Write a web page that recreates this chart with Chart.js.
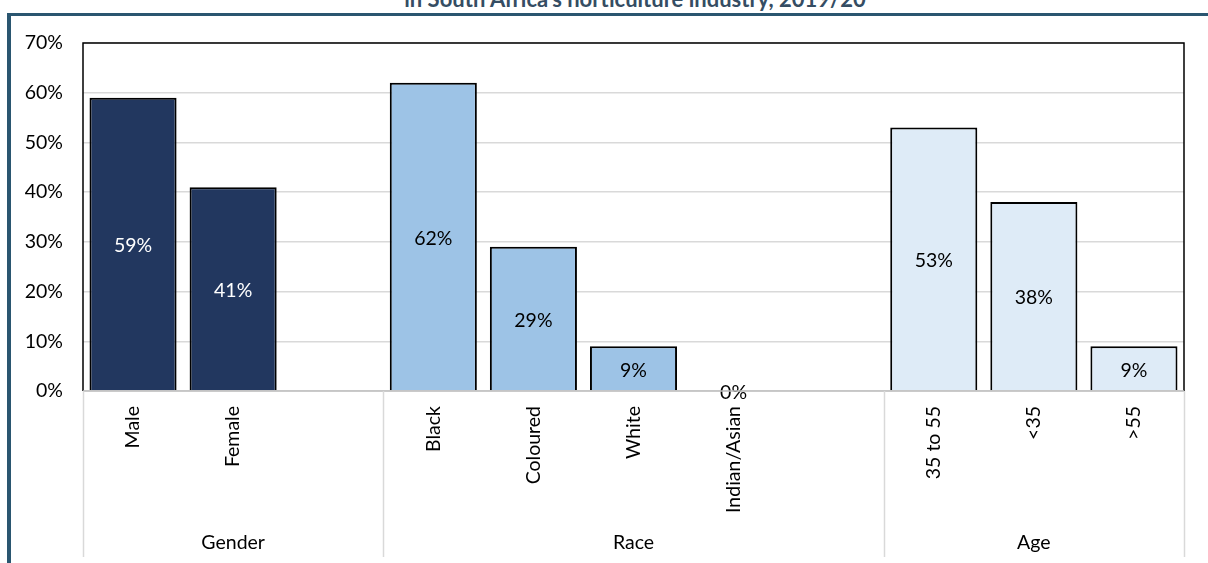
<!DOCTYPE html>
<html>
<head>
<meta charset="utf-8">
<script src="https://cdn.jsdelivr.net/npm/chart.js@4/dist/chart.umd.min.js"></script>
<style>
   body { margin: 0; background: #fff; overflow: hidden; }
   #wrap { position: relative; width: 1208px; height: 563px; overflow: hidden; }
   #title {
      position: absolute; left: 0; width: 1270px; top: -12px;
      text-align: center; font: bold 22px Lato, sans-serif; line-height: 22px;
      color: #354d63; white-space: nowrap;
   }
   #frame {
      position: absolute; left: 7px; top: 13px; width: 1210px; height: 560px;
      border-top: 3px solid #2a5670; border-left: 4px solid #2a5670;
   }
   #chart { position: absolute; left: 0; top: 0; }
</style>
</head>
<body>
<div id="wrap">
   <div id="title">in South Africa's horticulture industry, 2019/20</div>
   <div id="frame"></div>
   <canvas id="chart" width="1208" height="563"></canvas>
</div>
<script>
'use strict';

// categories, blanks are the gaps between groups
var categories = ['Male', 'Female', '', 'Black', 'Coloured', 'White', 'Indian/Asian', '', '35 to 55', '<35', '>55'];
var values = [59, 41, null, 62, 29, 9, 0, null, 53, 38, 9];
var groupNames = ['Gender', 'Race', 'Age'];
var groupFirst = [0, 3, 8];   // first slot of each group
var groupLast = [2, 7, 10];   // last slot of each group
var groupOf = [0, 0, 0, 1, 1, 1, 1, 1, 2, 2, 2];
var groupFill = ['#22375f', '#9dc3e6', '#deebf7'];
var groupText = ['#ffffff', '#000000', '#000000'];
var yTicks = [0, 10, 20, 30, 40, 50, 60, 70];

var FONT = 'Lato, sans-serif';

// value labels in the middle of each bar
var barLabels = {
   id: 'barLabels',
   afterDatasetsDraw: function (chart) {
      var ctx = chart.ctx;
      var meta = chart.getDatasetMeta(0);
      ctx.save();
      ctx.font = '19.5px ' + FONT;
      ctx.textAlign = 'center';
      ctx.textBaseline = 'middle';
      meta.data.forEach(function (bar, i) {
         if (values[i] === null) return;
         ctx.fillStyle = groupText[groupOf[i]];
         ctx.fillText(values[i] + '%', bar.x, (bar.y + bar.base) / 2 + 2);
      });
      ctx.restore();
   }
};

// plot border, group separators and group names under the axis
var groupAxis = {
   id: 'groupAxis',
   afterDraw: function (chart) {
      var ctx = chart.ctx;
      var a = chart.chartArea;
      var x = chart.scales.x;
      var half = (x.getPixelForValue(1) - x.getPixelForValue(0)) / 2;
      ctx.save();
      // plot border
      ctx.strokeStyle = '#000';
      ctx.lineWidth = 1.5;
      ctx.beginPath();
      ctx.moveTo(a.left, a.bottom);
      ctx.lineTo(a.left, a.top);
      ctx.lineTo(a.right, a.top);
      ctx.lineTo(a.right, a.bottom);
      ctx.stroke();
      // axis line
      ctx.strokeStyle = '#bfbfbf';
      ctx.lineWidth = 1.5;
      ctx.beginPath();
      ctx.moveTo(a.left, a.bottom);
      ctx.lineTo(a.right, a.bottom);
      ctx.stroke();
      // separators
      ctx.strokeStyle = '#d9d9d9';
      ctx.lineWidth = 1.5;
      var edges = [x.getPixelForValue(0) - half];
      groupLast.forEach(function (g) { edges.push(x.getPixelForValue(g) + half); });
      edges.forEach(function (px) {
         ctx.beginPath();
         ctx.moveTo(Math.round(px) + 0.5, a.bottom);
         ctx.lineTo(Math.round(px) + 0.5, 557);
         ctx.stroke();
      });
      // group names
      ctx.fillStyle = '#000';
      ctx.font = '19.5px ' + FONT;
      ctx.textAlign = 'center';
      ctx.textBaseline = 'middle';
      groupNames.forEach(function (name, g) {
         var cx = (x.getPixelForValue(groupFirst[g]) + x.getPixelForValue(groupLast[g])) / 2;
         ctx.fillText(name, cx, 543);
      });
      ctx.restore();
   }
};

new Chart(document.getElementById('chart'), {
   type: 'bar',
   data: {
      labels: categories,
      datasets: [{
         data: values,
         backgroundColor: values.map(function (v, i) { return groupFill[groupOf[i]]; }),
         borderColor: '#000',
         borderWidth: 2,
         categoryPercentage: 1,
         barPercentage: 0.87
      }]
   },
   options: {
      responsive: false,
      animation: false,
      layout: { padding: { left: 0, right: 24, top: 43, bottom: 0 } },
      plugins: { legend: { display: false }, tooltip: { enabled: false } },
      scales: {
         x: {
            grid: { display: false },
            border: { display: false },
            ticks: {
               autoSkip: false, minRotation: 90, maxRotation: 90,
               padding: 7, color: '#000', font: { family: FONT, size: 19.5 }
            },
            afterFit: function (s) { s.height = 172; }
         },
         y: {
            min: 0, max: 70,
            afterBuildTicks: function (s) { s.ticks = yTicks.map(function (v) { return { value: v }; }); },
            grid: { color: '#d9d9d9', lineWidth: 1.5, drawTicks: false },
            border: { display: false },
            ticks: {
               padding: 20, color: '#000', font: { family: FONT, size: 19.5 },
               callback: function (v) { return v + '%'; }
            },
            afterFit: function (s) { s.width = 83; }
         }
      }
   },
   plugins: [barLabels, groupAxis]
});
</script>
</body>
</html>
